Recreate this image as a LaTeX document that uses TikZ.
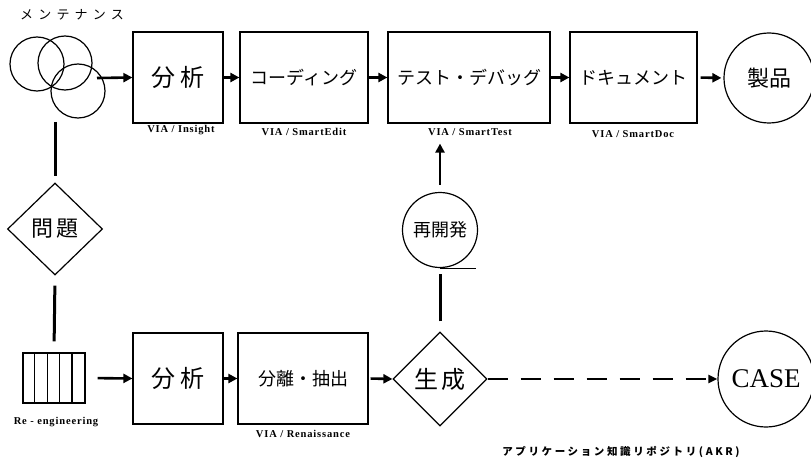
\documentclass[tikz,border=0pt]{standalone}
\usepackage{fontspec}
\newfontfamily\jp{Noto Sans CJK JP}
\newfontfamily\jpsp[LetterSpace=40]{Noto Sans CJK JP}
\newfontfamily\jpsq[LetterSpace=25]{Noto Sans CJK JP}
\newfontfamily\labfont[LetterSpace=8]{Liberation Serif}
\newfontfamily\casefont{Liberation Serif}
\usetikzlibrary{arrows.meta,shapes.geometric}
\begin{document}
\begin{tikzpicture}[x=1pt,y=-1pt,
  box/.style={draw,line width=1.2pt,minimum height=91pt,inner sep=0pt},
  arr/.style={line width=2.6pt,-{Triangle[length=9pt,width=9pt]}},
  bar/.style={line width=3pt},
  lab/.style={font=\labfont\bfseries\fontsize{10.5}{12}\selectfont,inner sep=0pt},
  jbig/.style={font=\jp\fontsize{24}{26}\selectfont},
  jmid/.style={font=\jp\fontsize{18}{20}\selectfont},
  ring/.style={draw,circle,line width=1.2pt,inner sep=0pt},
  dia/.style={draw,diamond,line width=1.2pt,inner sep=0pt}
]
\useasboundingbox (0,0) rectangle (811,468);

% title
\node[font=\jpsp\fontsize{13}{15}\selectfont] (mt) at (72,15) {メンテナンス};

% maintenance circles
\node[ring,minimum size=54pt] (c1) at (37,64) {};
\node[ring,minimum size=54pt] (c2) at (65,63) {};
\node[ring,minimum size=54pt] (c3) at (78,91) {};
\coordinate (cs) at (97,78);
\coordinate (cb) at (55,122);

% top row
\node[box,minimum width=90pt,jbig] (b1) at (178,77.5) {分\hspace{5pt}析};
\node[box,minimum width=128pt,jmid] (b2) at (304,77.5) {コーディング};
\node[box,minimum width=162pt,jmid] (b3) at (469,77.5) {テスト・デバッグ};
\node[box,minimum width=127pt,jmid] (b4) at (633.5,77.5) {ドキュメント};
\node[ring,minimum size=90pt,font=\jp\fontsize{22}{24}\selectfont] (prod) at (769,78) {製品};

\node[lab] (l1) at (181,130) {VIA / Insight};
\node[lab] (l2) at (304,132) {VIA / SmartEdit};
\node[lab] (l3) at (470,132) {VIA / SmartTest};
\node[lab] (l4) at (633,134) {VIA / SmartDoc};

\draw[arr] (cs) -- (b1.west);
\draw[arr] (b1.east) -- (b2.west);
\draw[arr] (b2.east) -- (b3.west);
\draw[arr] (b3.east) -- (b4.west);
\draw[arr,shorten <=3pt,shorten >=2pt] (b4.east) -- (prod.west);

% problem diamond
\node[dia,minimum width=95pt,minimum height=92pt,font=\jp\fontsize{22}{24}\selectfont] (mond) at (55,229) {問\hspace{3pt}題};

% re-engineering stack
\node[draw,line width=1.2pt,minimum width=62pt,minimum height=50pt,inner sep=0pt] (stack) at (54,378) {};
\foreach \k in {1,2,3,4}
  \draw[line width=1.2pt] ([xshift=\k*12.4pt]stack.north west) -- ([xshift=\k*12.4pt]stack.south west);
\node[lab] (lre) at (56,422) {Re - engineering};

\draw[bar,shorten >=6pt] (cb) -- (mond.north);
\draw[bar,shorten <=10pt,shorten >=11pt] (mond.south) -- (stack.north);

% bottom row
\node[box,minimum width=90pt,jbig] (b5) at (178,378.5) {分\hspace{5pt}析};
\node[box,minimum width=130pt,jmid] (b6) at (303,378.5) {分離・抽出};
\node[dia,minimum width=94pt,minimum height=94pt,jbig] (gen) at (440,379) {生\hspace{4pt}成};
\node[ring,minimum size=96pt,font=\casefont\fontsize{27}{29}\selectfont] (case) at (766,379) {CASE};
\node[lab] (l6) at (303,434) {VIA / Renaissance};

\draw[arr,shorten <=12pt] (stack.east) -- (b5.west);
\draw[arr] (b5.east) -- (b6.west);
\draw[arr,shorten <=2pt] (b6.east) -- (gen.west);
\draw[line width=2.6pt,dash pattern=on 20pt off 13pt,-{Triangle[length=9pt,width=8pt]}] (gen.east) -- (case.west);

% redevelopment
\node[ring,minimum size=75pt,font=\jp\fontsize{18}{20}\selectfont] (rk) at (440,230) {再開発};
\draw[line width=1.2pt] (rk.south) -- ++(36,0);
\draw[bar,shorten <=10pt,shorten >=6pt] (gen.north) -- (rk.south);
\draw[arr,shorten <=7pt,shorten >=20pt] (rk.north) -- (rk.north |- b3.south);

\node[font=\bfseries\jpsq\fontsize{10.5}{12}\selectfont] (akr) at (621,452) {アプリケーション知識リポジトリ(AKR)};
\end{tikzpicture}
\end{document}
